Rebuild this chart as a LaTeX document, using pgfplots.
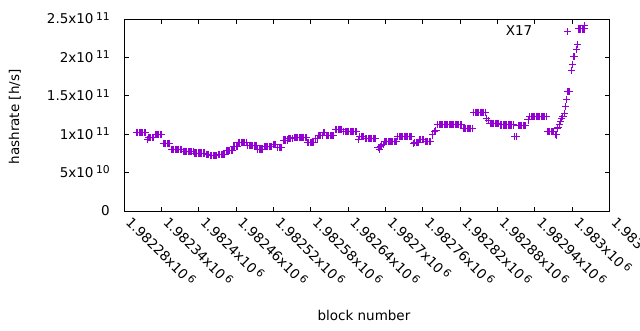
\documentclass[border=0pt]{standalone}
\usepackage{pgfplots}
\pgfplotsset{compat=1.18}
\usepackage{fontspec}
\setmainfont{DejaVu Sans}
\definecolor{gpv}{RGB}{148,0,211}
\newcommand{\pw}[1]{\hspace{2.5pt}\raisebox{3.6pt}{\fontsize{10.8}{11}\selectfont #1}}
\pgfplotsset{x17leg/.style={legend image code/.code={\path (0pt,0pt) (35pt,0pt); \draw[##1] plot coordinates {(35pt,0pt)};}}}
\begin{document}%
\fontsize{13.5}{16}\selectfont%
\begin{tikzpicture}
\begin{axis}[
  scale only axis, width=485.5pt, height=192pt,
  xmin=1982280, xmax=1983060, ymin=0, ymax=2.5e11,
  axis line style={line width=1pt},
  every tick/.style={black, line width=1pt}, major tick length=4.5pt,
  tick align=inside, tick pos=both,
  scaled x ticks=false, scaled y ticks=false,
  xtick={1982280,1982340,1982400,1982460,1982520,1982580,1982640,1982700,1982760,1982820,1982880,1982940,1983000,1983060},
  xticklabels={1.98228x10\pw{6},1.98234x10\pw{6},1.9824x10\pw{6},1.98246x10\pw{6},1.98252x10\pw{6},1.98258x10\pw{6},1.98264x10\pw{6},1.9827x10\pw{6},1.98276x10\pw{6},1.98282x10\pw{6},1.98288x10\pw{6},1.98294x10\pw{6},1.983x10\pw{6},1.98306x10\pw{6}},
  ytick={0,5e10,1e11,1.5e11,2e11,2.5e11},
  yticklabels={0,5x10\pw{10},1x10\pw{11},1.5x10\pw{11},2x10\pw{11},2.5x10\pw{11}},
  xticklabel style={xshift=5pt, yshift=-8pt, rotate=-45, anchor=west, inner sep=0pt},
  yticklabel style={anchor=base east, inner sep=0pt, xshift=-14.1pt, yshift=-4.9pt},
  xlabel={block number}, ylabel={hashrate [h/s]},
  every axis x label/.style={at={(axis description cs:0.494,-0.569)}, anchor=base},
  every axis y label/.style={at={(axis description cs:-0.2247,0.49)}, rotate=90, anchor=center},
  legend plot pos=right,
  legend style={draw=none, fill=none, at={(axis description cs:0.921,0.934)}, anchor=east, inner sep=0pt, column sep=0pt, nodes={inner sep=0pt}},
]
\coordinate (bl) at (rel axis cs:0,0);
\addplot[only marks, mark=+, mark size=3.6pt, color=gpv, mark options={line width=1pt}, x17leg]
coordinates {
(1982300,1.022e11)(1982302,1.022e11)(1982304,1.022e11)(1982306,1.022e11)(1982308,1.022e11)(1982310,1.022e11)(1982312,1.022e11)(1982314,1.022e11)
(1982317,0.933e11)
(1982319,0.955e11)(1982321,0.955e11)(1982323,0.955e11)(1982325,0.955e11)(1982327,0.955e11)
(1982330,0.998e11)(1982332,0.998e11)(1982334,0.998e11)(1982336,0.998e11)(1982338,0.998e11)(1982340,0.998e11)
(1982343,0.881e11)(1982345,0.881e11)(1982347,0.881e11)(1982349,0.881e11)(1982351,0.881e11)(1982353,0.881e11)
(1982356,0.803e11)(1982358,0.803e11)(1982360,0.803e11)(1982362,0.803e11)(1982364,0.803e11)(1982366,0.803e11)(1982368,0.803e11)(1982370,0.803e11)(1982372,0.803e11)
(1982375,0.772e11)(1982377,0.772e11)(1982379,0.772e11)(1982381,0.772e11)(1982383,0.772e11)(1982385,0.772e11)(1982387,0.772e11)(1982389,0.772e11)(1982391,0.772e11)
(1982393,0.755e11)(1982395,0.755e11)(1982397,0.755e11)(1982399,0.755e11)(1982401,0.755e11)(1982403,0.755e11)(1982405,0.755e11)(1982407,0.755e11)(1982409,0.755e11)
(1982412,0.738e11)(1982414,0.738e11)(1982416,0.738e11)
(1982419,0.72e11)(1982421,0.72e11)(1982423,0.72e11)(1982425,0.72e11)(1982427,0.72e11)(1982429,0.72e11)
(1982432,0.738e11)(1982434,0.738e11)(1982436,0.738e11)(1982438,0.738e11)(1982440,0.738e11)(1982442,0.738e11)
(1982444,0.785e11)(1982446,0.785e11)(1982448,0.785e11)(1982450,0.785e11)(1982452,0.785e11)(1982454,0.785e11)
(1982456,0.846e11)(1982458,0.846e11)(1982460,0.846e11)(1982462,0.846e11)
(1982464,0.895e11)(1982466,0.895e11)(1982468,0.895e11)(1982470,0.895e11)(1982472,0.895e11)(1982474,0.895e11)(1982476,0.895e11)
(1982479,0.855e11)(1982481,0.855e11)(1982483,0.855e11)(1982485,0.855e11)(1982487,0.855e11)(1982489,0.855e11)(1982491,0.855e11)(1982493,0.855e11)
(1982495,0.807e11)(1982497,0.807e11)(1982499,0.807e11)(1982501,0.807e11)(1982503,0.807e11)
(1982505,0.837e11)(1982507,0.837e11)(1982509,0.837e11)(1982511,0.837e11)(1982513,0.837e11)(1982515,0.837e11)(1982517,0.837e11)
(1982520,0.863e11)(1982522,0.863e11)(1982524,0.863e11)
(1982527,0.829e11)(1982529,0.829e11)(1982531,0.829e11)(1982533,0.829e11)
(1982536,0.924e11)(1982538,0.924e11)(1982540,0.924e11)(1982542,0.924e11)
(1982544,0.946e11)(1982546,0.946e11)(1982548,0.946e11)(1982550,0.946e11)
(1982553,0.96e11)(1982555,0.96e11)(1982557,0.96e11)(1982559,0.96e11)(1982561,0.96e11)(1982563,0.96e11)(1982565,0.96e11)(1982567,0.96e11)(1982569,0.96e11)(1982571,0.96e11)(1982573,0.96e11)
(1982575,0.889e11)
(1982577,0.894e11)(1982579,0.894e11)(1982581,0.894e11)(1982583,0.894e11)(1982585,0.894e11)
(1982588,0.946e11)(1982590,0.946e11)
(1982592,0.985e11)(1982594,0.985e11)(1982596,0.985e11)(1982598,0.985e11)
(1982600,1.02e11)(1982602,1.02e11)
(1982605,0.985e11)(1982607,0.985e11)(1982609,0.985e11)(1982611,0.985e11)(1982613,0.985e11)(1982615,0.985e11)(1982617,0.985e11)
(1982620,1.064e11)(1982622,1.064e11)(1982624,1.064e11)(1982626,1.064e11)(1982628,1.064e11)(1982630,1.064e11)
(1982633,1.035e11)(1982635,1.035e11)(1982637,1.035e11)(1982639,1.035e11)(1982641,1.035e11)(1982643,1.035e11)(1982645,1.035e11)(1982647,1.035e11)(1982649,1.035e11)(1982651,1.035e11)(1982653,1.035e11)
(1982657,0.933e11)
(1982659,0.967e11)(1982661,0.967e11)(1982663,0.967e11)(1982665,0.967e11)
(1982668,0.946e11)(1982670,0.946e11)(1982672,0.946e11)(1982674,0.946e11)(1982676,0.946e11)(1982678,0.946e11)(1982680,0.946e11)(1982682,0.946e11)(1982684,0.946e11)
(1982688,0.825e11)(1982690,0.80e11)(1982692,0.84e11)(1982694,0.855e11)(1982696,0.87e11)
(1982698,0.90e11)(1982700,0.90e11)(1982702,0.90e11)(1982704,0.90e11)(1982706,0.90e11)(1982708,0.90e11)(1982710,0.90e11)(1982712,0.90e11)(1982714,0.90e11)(1982716,0.90e11)(1982718,0.90e11)
(1982720,0.967e11)(1982722,0.967e11)(1982724,0.967e11)(1982726,0.967e11)(1982728,0.967e11)(1982730,0.967e11)(1982732,0.967e11)(1982734,0.967e11)(1982736,0.967e11)(1982738,0.967e11)(1982740,0.967e11)(1982742,0.967e11)
(1982745,0.88e11)
(1982747,0.894e11)(1982749,0.894e11)(1982751,0.894e11)(1982753,0.894e11)
(1982755,0.933e11)(1982757,0.933e11)(1982759,0.933e11)(1982761,0.933e11)
(1982764,0.90e11)(1982766,0.90e11)(1982768,0.90e11)(1982770,0.90e11)(1982772,0.90e11)
(1982776,0.99e11)(1982779,1.033e11)(1982781,1.05e11)
(1982784,1.128e11)(1982786,1.128e11)(1982788,1.128e11)(1982790,1.128e11)(1982792,1.128e11)(1982794,1.128e11)(1982796,1.128e11)(1982798,1.128e11)(1982800,1.128e11)(1982802,1.128e11)
(1982804,1.128e11)(1982806,1.128e11)(1982808,1.128e11)(1982810,1.128e11)(1982812,1.128e11)(1982814,1.128e11)(1982816,1.128e11)(1982818,1.128e11)(1982820,1.128e11)(1982822,1.128e11)
(1982825,1.077e11)(1982827,1.077e11)(1982829,1.077e11)(1982831,1.077e11)(1982833,1.077e11)(1982835,1.077e11)(1982837,1.077e11)(1982839,1.077e11)
(1982842,1.285e11)(1982844,1.285e11)(1982846,1.285e11)(1982848,1.285e11)(1982850,1.285e11)(1982852,1.285e11)(1982854,1.285e11)(1982856,1.285e11)(1982858,1.285e11)(1982860,1.285e11)
(1982862,1.207e11)(1982865,1.176e11)
(1982868,1.142e11)(1982870,1.142e11)(1982872,1.142e11)(1982874,1.142e11)(1982876,1.142e11)(1982878,1.142e11)(1982880,1.142e11)(1982882,1.142e11)
(1982885,1.12e11)(1982887,1.12e11)(1982889,1.12e11)(1982891,1.12e11)(1982893,1.12e11)(1982895,1.12e11)(1982897,1.12e11)(1982899,1.12e11)(1982901,1.12e11)(1982903,1.12e11)(1982905,1.12e11)
(1982908,0.967e11)(1982910,0.967e11)
(1982913,1.111e11)(1982915,1.111e11)(1982917,1.111e11)(1982919,1.111e11)(1982921,1.111e11)(1982923,1.111e11)(1982925,1.111e11)
(1982929,1.185e11)(1982932,1.23e11)
(1982934,1.228e11)(1982936,1.228e11)(1982938,1.228e11)(1982940,1.228e11)(1982942,1.228e11)(1982944,1.228e11)(1982946,1.228e11)(1982948,1.228e11)(1982950,1.228e11)(1982952,1.228e11)(1982954,1.228e11)(1982956,1.228e11)(1982958,1.228e11)
(1982960,1.035e11)(1982962,1.035e11)(1982964,1.035e11)(1982966,1.035e11)(1982968,1.035e11)(1982970,1.035e11)
(1982973,1.0e11)(1982975,0.99e11)(1982976,1.08e11)(1982977,1.085e11)(1982979,1.13e11)(1982981,1.17e11)(1982983,1.2e11)(1982985,1.23e11)(1982987,1.27e11)(1982989,1.36e11)(1982991,1.455e11)
(1982993,1.555e11)(1982994,1.555e11)(1982995,1.555e11)(1982996,1.555e11)
(1982999,1.83e11)(1983000,1.91e11)
(1983002,2.01e11)(1983003,2.01e11)(1983004,2.01e11)
(1983007,2.10e11)(1983008,2.17e11)
(1983010,2.37e11)(1983012,2.37e11)(1983014,2.37e11)(1983016,2.37e11)(1983018,2.37e11)(1983020,2.37e11)
(1983019,2.41e11)
};
\addlegendentry{X17}
\end{axis}
\pgfresetboundingbox
\path[use as bounding box] (bl) ++(-124.1pt,-119pt) rectangle ++(640pt,330pt);
\end{tikzpicture}%
\end{document}
